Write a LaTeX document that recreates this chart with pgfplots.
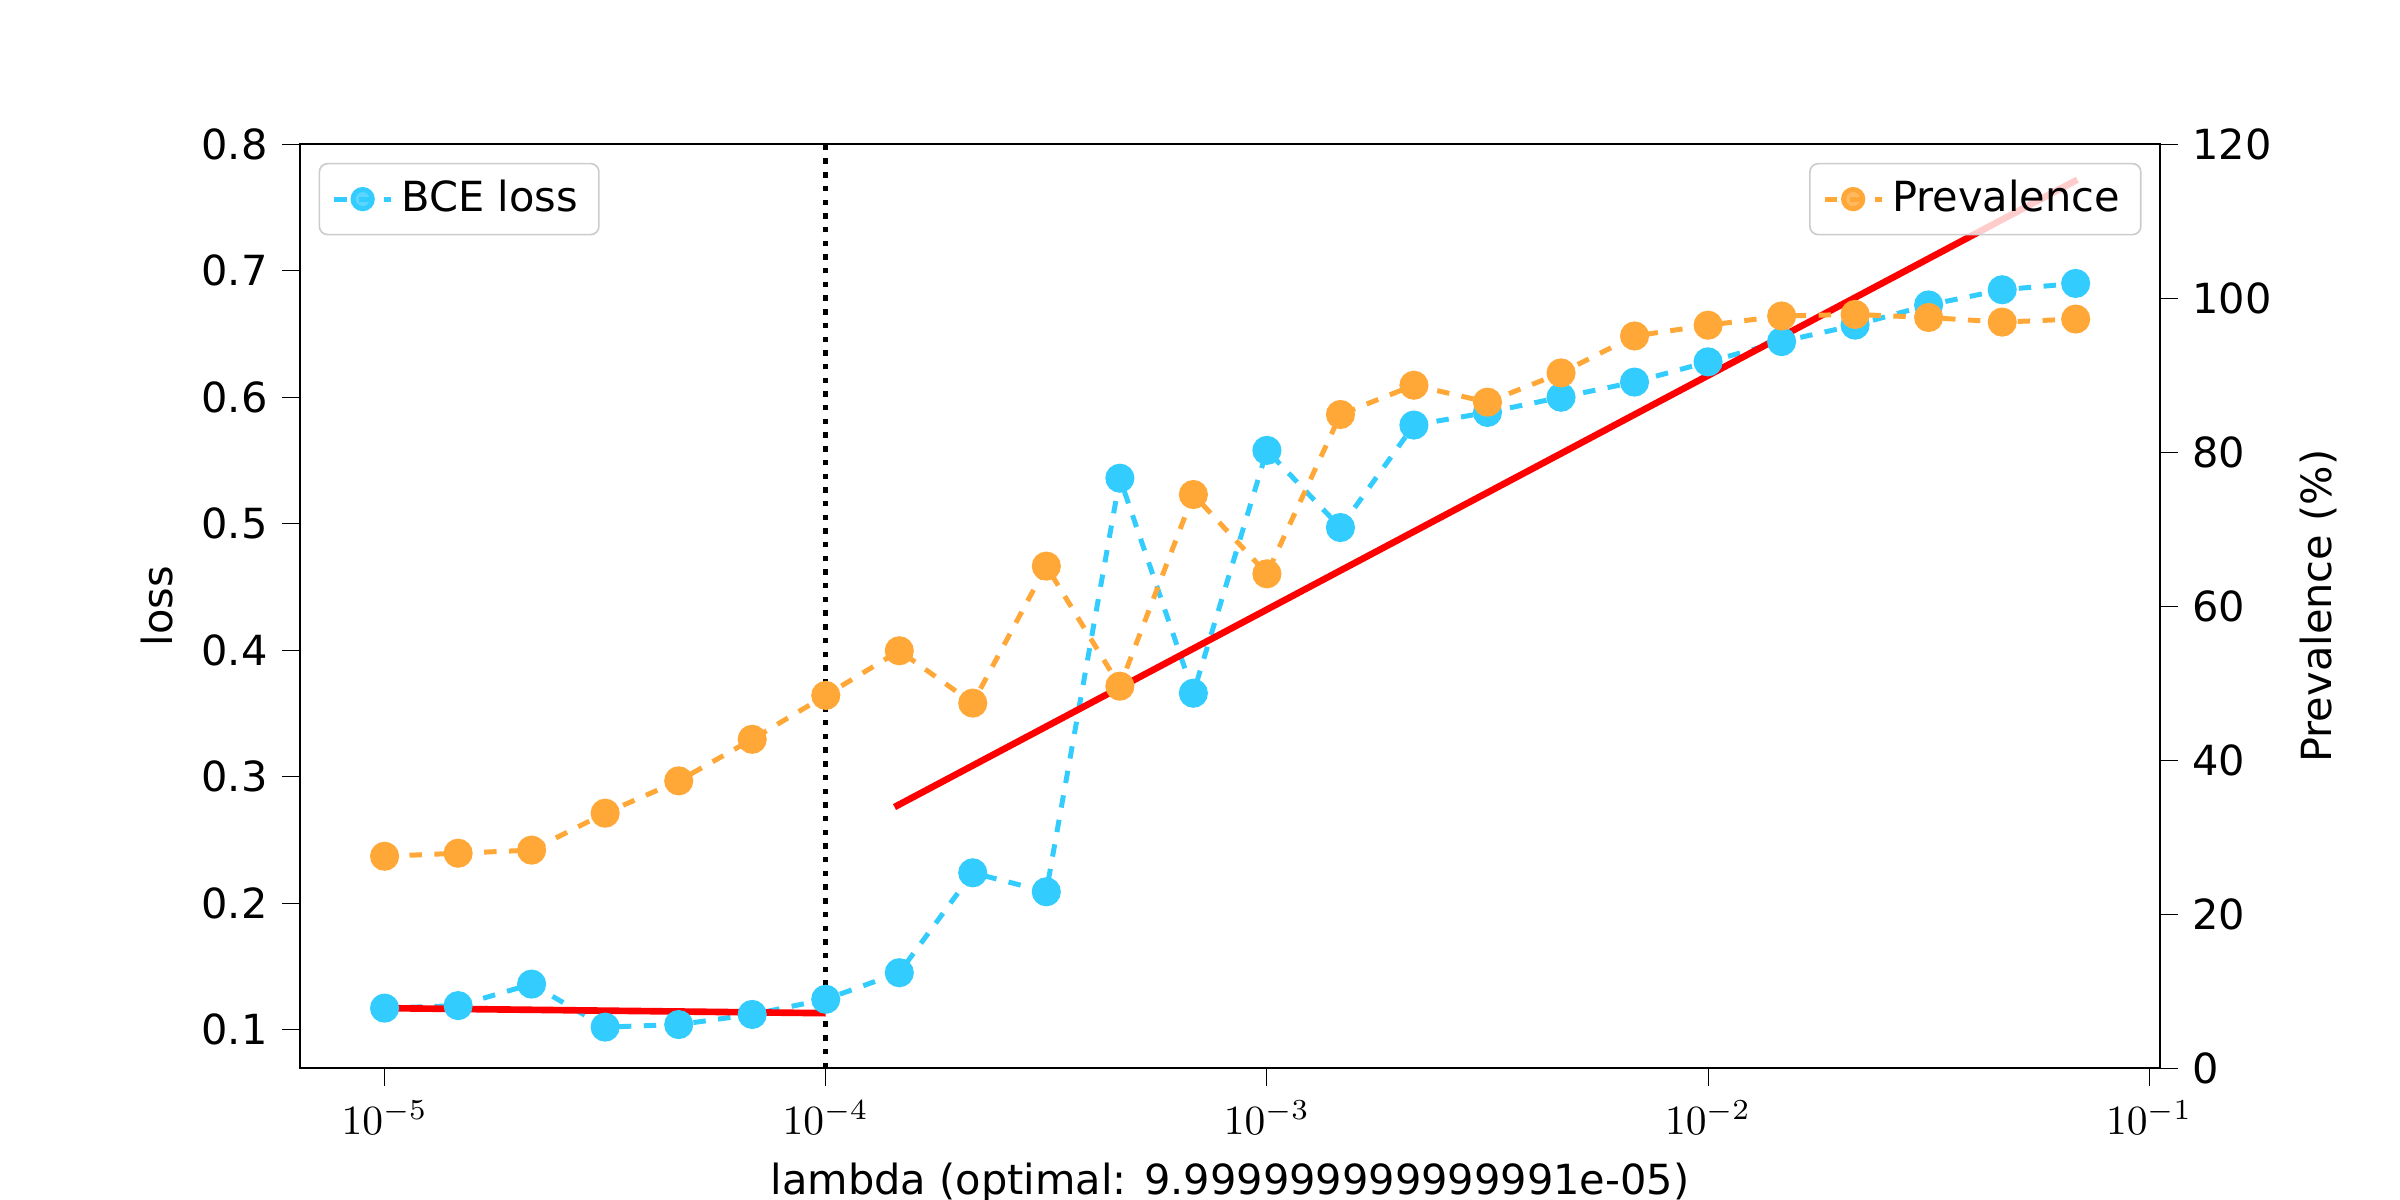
\documentclass[border=0pt]{standalone}
\usepackage{pgfplots}
\pgfplotsset{compat=1.18}
\usepackage{fontspec}
\setmainfont{DejaVu Sans}
\definecolor{bce}{RGB}{51,204,255}
\definecolor{prev}{RGB}{255,168,56}
\begin{document}
\begin{tikzpicture}
\useasboundingbox (-2.54cm,-1.118cm) rectangle (17.78cm,9.042cm);
\pgfplotsset{every axis/.style={scale only axis, width=15.75cm, height=7.82cm, at={(0,0)}, anchor=south west,
 xmode=log, xmin=6.43e-6, xmax=0.1059, tick style={black}, tick align=outside,
 /pgf/number format/assume math mode=true,
 legend style={font=\normalsize, draw=black!20, rounded corners=2pt, fill=white, fill opacity=0.8, text opacity=1},
 legend image post style={scale=0.8},
 legend cell align=left, ticklabel style={font=\normalsize}}}
\begin{axis}[ymin=0.0697, ymax=0.8, ytick={0.1,0.2,...,0.8},
 yticklabel style={/pgf/number format/fixed, /pgf/number format/precision=1, /pgf/number format/fixed zerofill},
 ylabel={loss}, xlabel={lambda (optimal: 9.999999999999991e-05)},
 xtick pos=bottom, ytick pos=left,
 legend style={at={(0.01,0.98)}, anchor=north west},
 log basis x=10, xtick={1e-5,1e-4,1e-3,1e-2,1e-1}]
\addplot[bce, line width=1.2pt, dashed, mark=*, mark size=2.9pt, mark options={solid}] coordinates {
(1e-5,0.117)(1.468e-5,0.119)(2.154e-5,0.136)(3.162e-5,0.102)(4.642e-5,0.104)(6.813e-5,0.112)
(1e-4,0.124)(1.468e-4,0.145)(2.154e-4,0.224)(3.162e-4,0.209)(4.642e-4,0.536)(6.813e-4,0.366)
(1e-3,0.558)(1.468e-3,0.497)(2.154e-3,0.578)(3.162e-3,0.588)(4.642e-3,0.600)(6.813e-3,0.612)
(1e-2,0.628)(1.468e-2,0.644)(2.154e-2,0.657)(3.162e-2,0.673)(4.642e-2,0.685)(6.813e-2,0.690)};
\addlegendentry{BCE loss}
\addplot[red, line width=1.6pt, forget plot] coordinates {(1e-5,0.117)(1e-4,0.113)};
\addplot[red, line width=1.6pt, forget plot] coordinates {(1.432e-4,0.276)(0.0687,0.772)};
\addplot[black, dotted, line width=1.3pt, forget plot] coordinates {(1e-4,0.0697)(1e-4,0.8)};
\end{axis}
\begin{axis}[ymin=0, ymax=120, ytick={0,20,...,120}, ytick pos=right, yticklabel pos=right,
 xtick=\empty, xminorticks=false,
 ylabel={Prevalence (\%)}, ylabel near ticks,
 legend style={at={(0.99,0.98)}, anchor=north east}]
\addplot[prev, line width=1.2pt, dashed, mark=*, mark size=2.9pt, mark options={solid}] coordinates {
(1e-5,27.5)(1.468e-5,27.9)(2.154e-5,28.3)(3.162e-5,33.1)(4.642e-5,37.3)(6.813e-5,42.7)
(1e-4,48.4)(1.468e-4,54.2)(2.154e-4,47.4)(3.162e-4,65.2)(4.642e-4,49.6)(6.813e-4,74.5)
(1e-3,64.2)(1.468e-3,84.9)(2.154e-3,88.7)(3.162e-3,86.5)(4.642e-3,90.3)(6.813e-3,95.1)
(1e-2,96.5)(1.468e-2,97.7)(2.154e-2,97.9)(3.162e-2,97.5)(4.642e-2,96.9)(6.813e-2,97.3)};
\addlegendentry{Prevalence}
\end{axis}
\end{tikzpicture}
\end{document}
